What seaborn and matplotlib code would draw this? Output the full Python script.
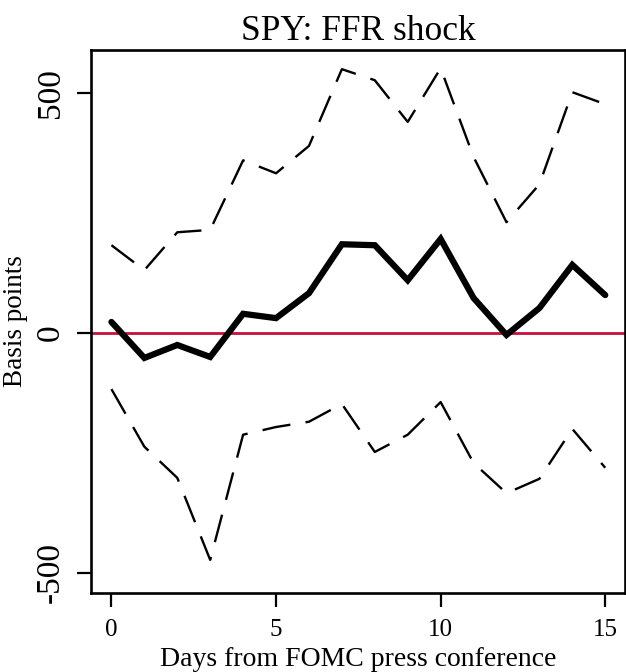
import numpy as np
import pandas as pd
import matplotlib
matplotlib.use("Agg")
import matplotlib.pyplot as plt
import seaborn as sns

# Days after the press conference
days = list(range(16))

# Point estimate and confidence band (basis points)
estimate = [23, -52, -25, -50, 40, 31, 83, 185, 183, 110, 196, 73, -4, 52, 142, 79]
upper = [183, 131, 210, 215, 360, 333, 390, 550, 527, 440, 552, 367, 231, 310, 502, 477]
lower = [-117, -237, -302, -473, -212, -196, -185, -148, -248, -212, -144, -271, -334, -304, -200, -281]

x_ticks = [0, 5, 10, 15]
y_ticks = [-500, 0, 500]

df = pd.DataFrame({"day": days, "estimate": estimate, "upper": upper, "lower": lower})

sns.set_style("ticks")
plt.rcParams['font.family'] = ['Liberation Serif', 'DejaVu Serif']
plt.rcParams.update({
    'text.color': 'black',
    'axes.labelcolor': 'black',
    'xtick.color': 'black',
    'ytick.color': 'black',
})

fig = plt.figure(figsize=(6.26, 6.72), dpi=100)
ax = fig.add_axes([0.1454, 0.1176, 0.853, 0.808])

ax.axhline(0, color="#C8103C", lw=2.0, zorder=1)
for col in ["upper", "lower"]:
    sns.lineplot(data=df, x="day", y=col, ax=ax, color="black", lw=1.7, zorder=2)
    ax.lines[-1].set_dashes((12, 6.5))
sns.lineplot(data=df, x="day", y="estimate", ax=ax, color="black", lw=4.5,
             zorder=3, solid_joinstyle="miter")

ax.set_xlim(-0.62, 15.6)
ax.set_ylim(-542, 590)
ax.set_xticks(x_ticks)
ax.set_yticks(y_ticks)
ax.set_yticklabels([str(v) for v in y_ticks], rotation=90, va="center")
ax.tick_params(axis="both", length=10, width=1.6, color="black", labelcolor="black")
ax.tick_params(axis="x", labelsize=18, pad=9)
ax.tick_params(axis="y", labelsize=24, pad=8)
for s in ax.spines.values():
    s.set_linewidth(1.9)
    s.set_color("black")
    s.set_visible(True)

ax.set_title("SPY: FFR shock", fontsize=25.5, pad=7, color="black")
ax.set_xlabel("Days from FOMC press conference", fontsize=20, labelpad=4, color="black")
ax.set_ylabel("Basis points", fontsize=19.5, color="black")
ax.yaxis.set_label_coords(-0.118, 0.5)

fig.savefig("out.png", dpi=100)
